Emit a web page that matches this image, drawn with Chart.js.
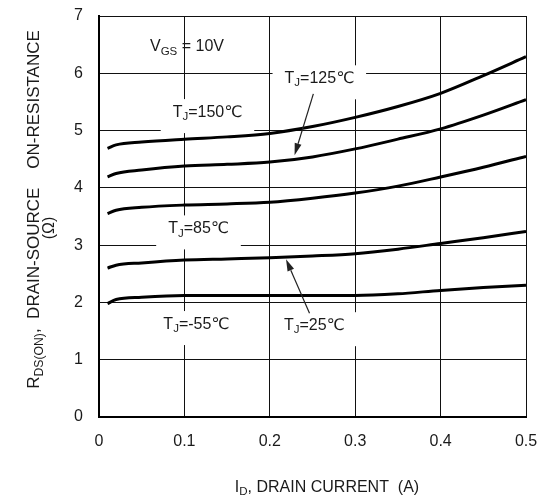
<!DOCTYPE html>
<html>
<head>
<meta charset="utf-8">
<script src="https://cdn.jsdelivr.net/npm/chart.js@4/dist/chart.umd.min.js"></script>
<style>
html,body{margin:0;padding:0;background:#fff;}
canvas{display:block;}
</style>
</head>
<body>
<canvas id="c" width="539" height="499"></canvas>
<script>
// ---- data ----
const current = [0.01, 0.02, 0.05, 0.1, 0.15, 0.2, 0.25, 0.3, 0.35, 0.4, 0.45, 0.5];
const r150 = [4.69, 4.75, 4.80, 4.85, 4.89, 4.95, 5.07, 5.23, 5.42, 5.65, 5.96, 6.29];
const r125 = [4.19, 4.25, 4.31, 4.38, 4.41, 4.45, 4.54, 4.68, 4.85, 5.03, 5.27, 5.54];
const r85  = [3.55, 3.61, 3.66, 3.70, 3.72, 3.75, 3.82, 3.91, 4.03, 4.19, 4.36, 4.55];
const r25  = [2.60, 2.65, 2.69, 2.74, 2.76, 2.78, 2.81, 2.85, 2.93, 3.03, 3.13, 3.24];
const rm55 = [1.98, 2.05, 2.09, 2.12, 2.12, 2.12, 2.12, 2.12, 2.15, 2.21, 2.26, 2.30];
const xTicks = [0, 0.1, 0.2, 0.3, 0.4, 0.5];
const yTicks = [0, 1, 2, 3, 4, 5, 6, 7];

// annotation labels (data coordinates)
const labels = [
  {segs:[['V'],['GS',1],[' = 10V']], x:0.103, y:6.48, box:false},
  {segs:[['T'],['J',1],['=125℃']], x:0.258, y:5.93, box:true},
  {segs:[['T'],['J',1],['=150℃']], x:0.127, y:5.34, box:true},
  {segs:[['T'],['J',1],['=85℃']], x:0.1165, y:3.31, box:true},
  {segs:[['T'],['J',1],['=-55℃']], x:0.114, y:1.64, box:true},
  {segs:[['T'],['J',1],['=25℃']], x:0.252, y:1.62, box:true}
];
const arrows = [
  {x1:0.251, y1:5.64, x2:0.229, y2:4.57},
  {x1:0.2465, y1:1.81, x2:0.219, y2:2.755}
];

const FONT = '"Liberation Sans", Arial, "DejaVu Sans", sans-serif';
const TXT = '#1a1a1a';

function pts(ys){ return current.map((x,i)=>({x:x, y:ys[i]})); }

function richWidth(ctx, segs, size){
  let w = 0;
  segs.forEach(s=>{ ctx.font = (s[1]? size*0.72 : size) + 'px ' + FONT; w += ctx.measureText(s[0]).width; });
  return w;
}
function drawRich(ctx, segs, cx, cy, size){
  const w = richWidth(ctx, segs, size);
  let x = cx - w/2;
  ctx.textBaseline = 'alphabetic';
  ctx.textAlign = 'left';
  ctx.fillStyle = TXT;
  const base = cy + size*0.35;
  segs.forEach(s=>{
    const sz = s[1]? size*0.72 : size;
    ctx.font = sz + 'px ' + FONT;
    ctx.fillText(s[0], x, s[1]? base + size*0.22 : base);
    x += ctx.measureText(s[0]).width;
  });
}

const annot = {
  id:'annot',
  beforeDatasetsDraw(chart){
    const ctx = chart.ctx, xs = chart.scales.x, ys = chart.scales.y;
    ctx.save();
    ctx.fillStyle = '#fff';
    labels.forEach(l=>{
      if(!l.box) return;
      const cx = xs.getPixelForValue(l.x), cy = ys.getPixelForValue(l.y);
      const w = richWidth(ctx, l.segs, 16);
      ctx.fillRect(cx - w/2 - 12, cy - 12, w + 24, 34);
    });
    ctx.restore();
  },
  afterDatasetsDraw(chart){
    const ctx = chart.ctx, xs = chart.scales.x, ys = chart.scales.y;
    ctx.save();
    labels.forEach(l=>{
      drawRich(ctx, l.segs, xs.getPixelForValue(l.x), ys.getPixelForValue(l.y), 16);
    });
    ctx.strokeStyle = '#222'; ctx.fillStyle = '#222'; ctx.lineWidth = 1.2;
    arrows.forEach(a=>{
      const x1 = xs.getPixelForValue(a.x1), y1 = ys.getPixelForValue(a.y1);
      const x2 = xs.getPixelForValue(a.x2), y2 = ys.getPixelForValue(a.y2);
      const ang = Math.atan2(y2-y1, x2-x1);
      const L = 12, W = 3.5;
      const bx = x2 - L*Math.cos(ang), by = y2 - L*Math.sin(ang);
      ctx.beginPath(); ctx.moveTo(x1,y1); ctx.lineTo(bx,by); ctx.stroke();
      ctx.beginPath();
      ctx.moveTo(x2,y2);
      ctx.lineTo(bx + W*Math.sin(ang), by - W*Math.cos(ang));
      ctx.lineTo(bx - W*Math.sin(ang), by + W*Math.cos(ang));
      ctx.closePath(); ctx.fill();
    });
    ctx.restore();
  },
  afterDraw(chart){
    const ctx = chart.ctx;
    ctx.save();
    // x axis title
    drawRich(ctx, [['I'],['D',1],[', DRAIN CURRENT  (A)']], 327, 486, 16);
    // y axis title
    ctx.translate(33, 209.5);
    ctx.rotate(-Math.PI/2);
    drawRich(ctx, [['R'],['DS(ON)',1],[',  DRAIN-SOURCE    ON-RESISTANCE']], 0, 0, 17);
    ctx.restore();
    ctx.save();
    ctx.translate(48, 228);
    ctx.rotate(-Math.PI/2);
    drawRich(ctx, [['(Ω)']], 0, 0, 16);
    ctx.restore();
  }
};

const ds = (d)=>({data:pts(d), borderColor:'#000', borderWidth:3, pointRadius:0, fill:false,
  cubicInterpolationMode:'monotone', tension:0.4});

new Chart(document.getElementById('c'), {
  type:'line',
  data:{ datasets:[ds(r150), ds(r125), ds(r85), ds(r25), ds(rm55)] },
  options:{
    responsive:false, animation:false, devicePixelRatio:1,
    layout:{padding:{left:0, right:13, top:16, bottom:0}},
    plugins:{legend:{display:false}, tooltip:{enabled:false}},
    scales:{
      x:{type:'linear', min:0, max:0.5,
        afterBuildTicks(s){ s.ticks = xTicks.map(v=>({value:v})); },
        afterFit(s){ s.height = 82; s.paddingLeft = 0; s.paddingRight = 0; },
        grid:{color:'#111', lineWidth:1, drawTicks:false},
        border:{display:true, color:'#000', width:2},
        ticks:{padding:15, color:TXT, font:{family:FONT, size:16},
          callback:(v)=> v===0 ? '0' : v.toFixed(1)}
      },
      y:{type:'linear', min:0, max:7,
        afterBuildTicks(s){ s.ticks = yTicks.map(v=>({value:v})); },
        afterFit(s){ s.width = 99; s.paddingTop = 0; s.paddingBottom = 0; },
        grid:{color:'#111', lineWidth:1, drawTicks:false},
        border:{display:true, color:'#000', width:2},
        ticks:{padding:16, color:TXT, font:{family:FONT, size:16}}
      }
    }
  },
  plugins:[annot]
});
</script>
</body>
</html>
